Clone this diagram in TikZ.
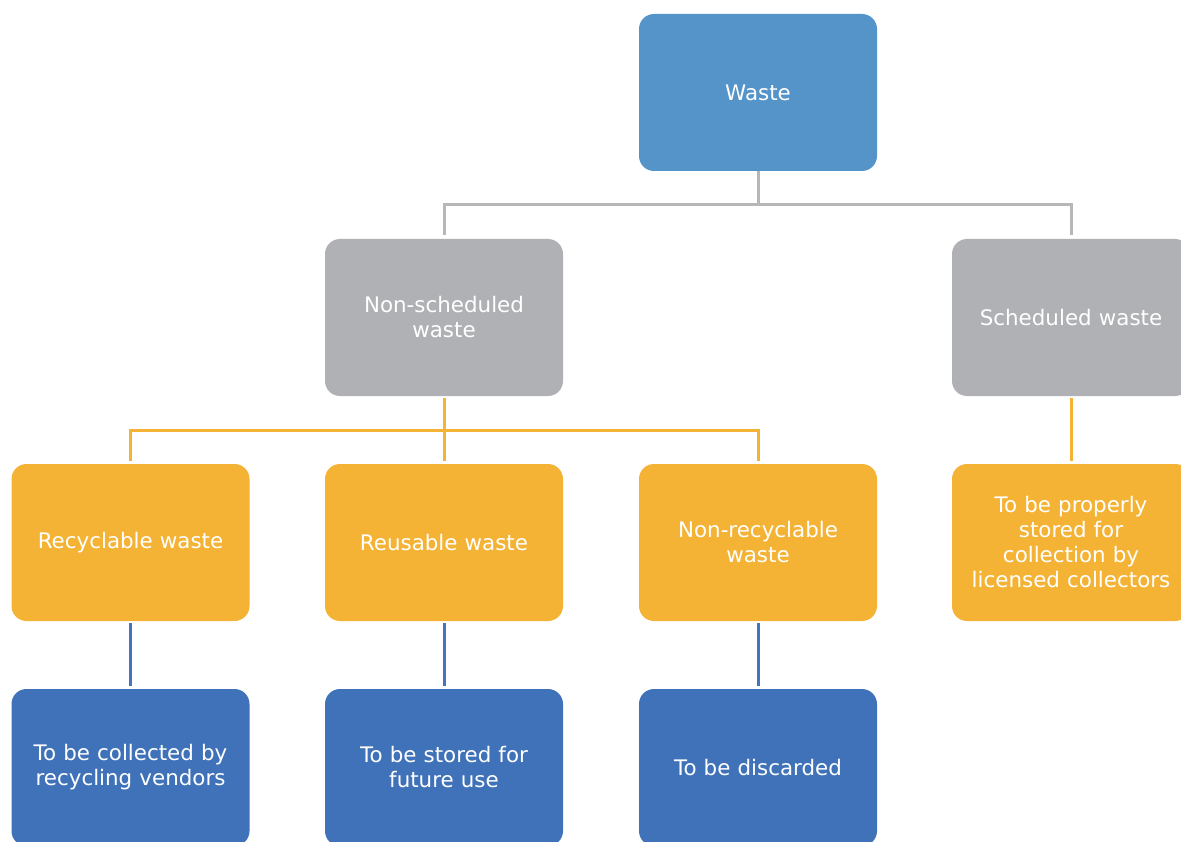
\documentclass[tikz,border=0pt]{standalone}
\usepackage{fontspec}
\setmainfont{DejaVu Sans}
\definecolor{topblue}{HTML}{5494C9}
\definecolor{boxgray}{HTML}{B0B1B5}
\definecolor{boxorange}{HTML}{F4B335}
\definecolor{boxblue}{HTML}{3F72B8}
\definecolor{linegray}{HTML}{B6B7B9}
\definecolor{lineblue}{HTML}{4472C4}
\tikzset{
  card/.style={rectangle, rounded corners=15pt, minimum width=238pt, minimum height=157pt,
    text width=230pt, align=center, text=white, inner sep=0pt,
    font=\fontsize{21.4pt}{25pt}\selectfont},
  topcard/.style={card, fill=topblue},
  graycard/.style={card, fill=boxgray},
  orangecard/.style={card, fill=boxorange},
  bluecard/.style={card, fill=boxblue},
  link/.style={line width=3pt}
}
\begin{document}
\begin{tikzpicture}[x=1pt,y=-1pt]
\useasboundingbox (0,0) rectangle (1181,842);
\clip (0,0) rectangle (1181,842);
\fill[white] (0,0) rectangle (1181,842);

% level 1
\node[topcard] (waste) at (758,92.5) {Waste};
% level 2
\node[graycard] (nsw) at (444,317.5) {Non-scheduled\\waste};
\node[graycard] (sw) at (1071,317.5) {Scheduled waste};
% level 3
\node[orangecard] (rec) at (130.5,542.5) {Recyclable waste};
\node[orangecard] (reu) at (444,542.5) {Reusable waste};
\node[orangecard] (nrec) at (758,542.5) {Non-recyclable\\waste};
\node[orangecard] (stored) at (1071,542.5) {To be properly\\stored for\\collection by\\licensed collectors};
% level 4
\node[bluecard] (vend) at (130.5,767.5) {To be collected by\\recycling vendors};
\node[bluecard] (future) at (444,767.5) {To be stored for\\future use};
\node[bluecard] (disc) at (758,767.5) {To be discarded};

% connectors
\coordinate (gbar) at (758,205);
\coordinate (obar) at (444,430);
\draw[link, linegray, shorten >=4pt] (waste.south) -- (gbar) -| (nsw.north);
\draw[link, linegray, shorten >=4pt] (gbar) -| (sw.north);
\draw[link, boxorange, shorten <=2pt, shorten >=3pt] (nsw.south) -- (reu.north);
\draw[link, boxorange, shorten >=3pt] (obar) -| (rec.north);
\draw[link, boxorange, shorten >=3pt] (obar) -| (nrec.north);
\draw[link, boxorange, shorten <=2pt, shorten >=3pt] (sw.south) -- (stored.north);
\draw[link, lineblue, shorten <=2pt, shorten >=3pt] (rec.south) -- (vend.north);
\draw[link, lineblue, shorten <=2pt, shorten >=3pt] (reu.south) -- (future.north);
\draw[link, lineblue, shorten <=2pt, shorten >=3pt] (nrec.south) -- (disc.north);
\end{tikzpicture}
\end{document}
